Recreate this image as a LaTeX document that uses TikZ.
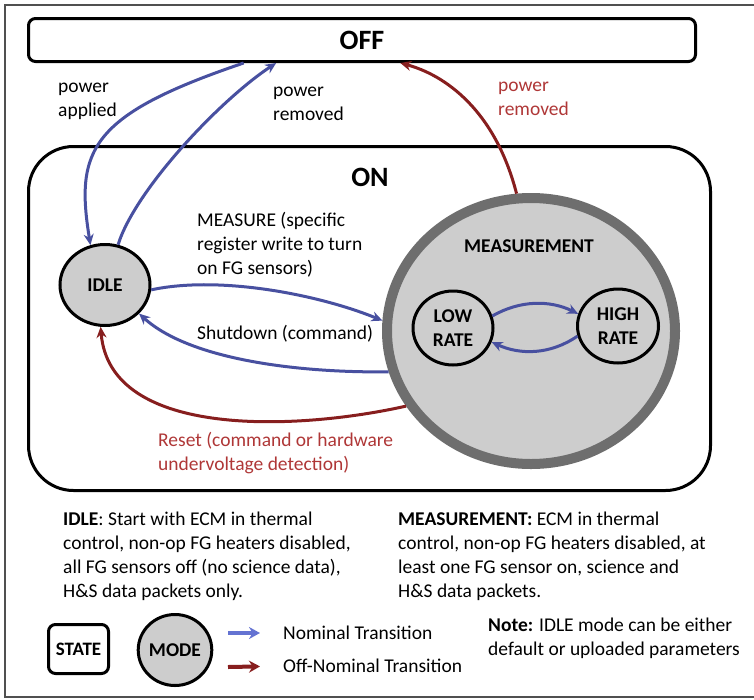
\documentclass[tikz,border=0pt]{standalone}
\usepackage{fontspec}
\setmainfont{Carlito}
\usepackage{tikz}
\usetikzlibrary{arrows.meta,shapes.geometric}

\definecolor{nomblue}{RGB}{72,80,160}
\definecolor{keyblue}{RGB}{100,115,210}
\definecolor{offred}{RGB}{135,30,30}
\definecolor{txtred}{RGB}{175,55,55}
\definecolor{ringgray}{RGB}{110,110,110}
\definecolor{modegray}{RGB}{205,205,205}
\definecolor{framegray}{RGB}{80,80,80}

\begin{document}
\begin{tikzpicture}[x=1pt, y=-1pt,
  every node/.style={font=\fontsize{19.5}{24}\selectfont},
  bigfont/.style={font=\fontsize{28}{32}\selectfont\bfseries},
  statebox/.style={draw, line width=3pt, rounded corners=7pt},
  modeball/.style={ellipse, draw, line width=3pt, fill=modegray, inner sep=0pt,
    align=center, font=\fontsize{19.5}{24}\selectfont\bfseries},
  rateball/.style={ellipse, draw, line width=3pt, inner sep=0pt, align=center,
    minimum height=74pt, font=\fontsize{19.5}{24}\selectfont\bfseries},
  nominal/.style={nomblue, line width=3pt, -{Stealth[length=11pt,width=10pt]}},
  offnominal/.style={offred, line width=3pt, -{Stealth[length=11pt,width=10pt]}},
  txt/.style={anchor=west, align=left, inner sep=0pt}]
  %----- page and outer frame -----
  \useasboundingbox (0,0) rectangle (754,699);
  \draw[framegray, line width=1.5pt] (760,5) -- (5,5) -- (5,697) -- (760,697);

  %----- states -----
  \node[statebox, bigfont, minimum width=667pt, minimum height=43pt] (off) at (362,40) {OFF};
  \node[statebox, rounded corners=45pt, minimum width=682pt, minimum height=344pt] (on) at (369.5,318.5) {};
  \node[bigfont] (ontitle) at (370,177) {ON};

  %----- modes -----
  \node[modeball, minimum width=90pt, minimum height=81pt] (idle) at (105,285) {IDLE};
  \node[ellipse, draw=ringgray, line width=10pt, fill=modegray,
        minimum width=288pt, minimum height=266pt] (meas) at (531,331) {};
  \node[font=\fontsize{19.5}{24}\selectfont\bfseries] (meastitle) at (529,246) {MEASUREMENT};
  \node[rateball, minimum width=80pt] (low) at (453,328) {LOW\\RATE};
  \node[rateball, minimum width=81pt] (high) at (618,326) {HIGH\\RATE};

  %----- transitions -----
  \draw[nominal] (off.191) .. controls (90,115) and (75,150) .. (idle.110);
  \draw[nominal] (idle.72) .. controls (135,190) and (220,100) .. (off.195.6);
  \draw[offnominal] (meas.96) .. controls (495,110) and (445,75) .. (off.-31.6);
  \draw[nominal] (idle.-6) .. controls (220,275) and (320,295) .. (meas.176);
  \draw[nominal] (meas.196.5) .. controls (300,373) and (190,360) .. (idle.-40);
  \draw[offnominal] (meas.211) .. controls (300,430) and (110,440) .. (idle.-96);
  \draw[nominal] (low.17) .. controls (520,300) and (550,300) .. (high.163);
  \draw[nominal] (high.194) .. controls (550,355) and (520,355) .. (low.-20);

  %----- transition labels -----
  \node[txt] (pwron) at (58,101) {power\\applied};
  \node[txt] (pwroff) at (273,103.5) {power\\removed};
  \node[txt, text=txtred] (pwrfail) at (498,98.5) {power\\removed};
  \node[txt] (measlbl) at (197,245) {MEASURE (specific\\register write to turn\\on FG sensors)};
  \node[txt] (shutlbl) at (197,334) {Shutdown (command)};
  \node[txt, text=txtred] (resetlbl) at (158,453.5) {Reset (command or hardware\\undervoltage detection)};

  %----- mode descriptions -----
  \node[txt] (idledesc) at (63,556) {\textbf{IDLE}: Start with ECM in thermal\\control, non-op FG heaters disabled,\\all FG sensors off (no science data),\\H\&S data packets only.};
  \node[txt] (measdesc) at (398,556) {\textbf{MEASUREMENT:} ECM in thermal\\control, non-op FG heaters disabled, at\\least one FG sensor on, science and\\H\&S data packets.};

  %----- legend -----
  \node[statebox, font=\fontsize{19}{24}\selectfont\bfseries,
        minimum width=60pt, minimum height=49pt] (keystate) at (78.5,649) {STATE};
  \node[modeball, minimum width=73pt, minimum height=71pt] (keymode) at (175,650) {MODE};
  \node[txt] (nomtxt) at (283,633) {Nominal Transition};
  \node[txt] (offtxt) at (283,666) {Off-Nominal Transition};
  \coordinate (nomtail) at (228,633);
  \coordinate (offtail) at (228,667);
  \draw[keyblue, line width=4pt, shorten >=23pt, -{Stealth[length=11pt,width=12pt]}] (nomtail) -- (nomtxt.west);
  \draw[offred, line width=4pt, shorten >=23pt, -{Stealth[length=11pt,width=12pt]}] (offtail) -- (offtxt.west);
  \node[txt] (note) at (488,638.5) {\textbf{Note:} IDLE mode can be either\\default or uploaded parameters};
\end{tikzpicture}
\end{document}
